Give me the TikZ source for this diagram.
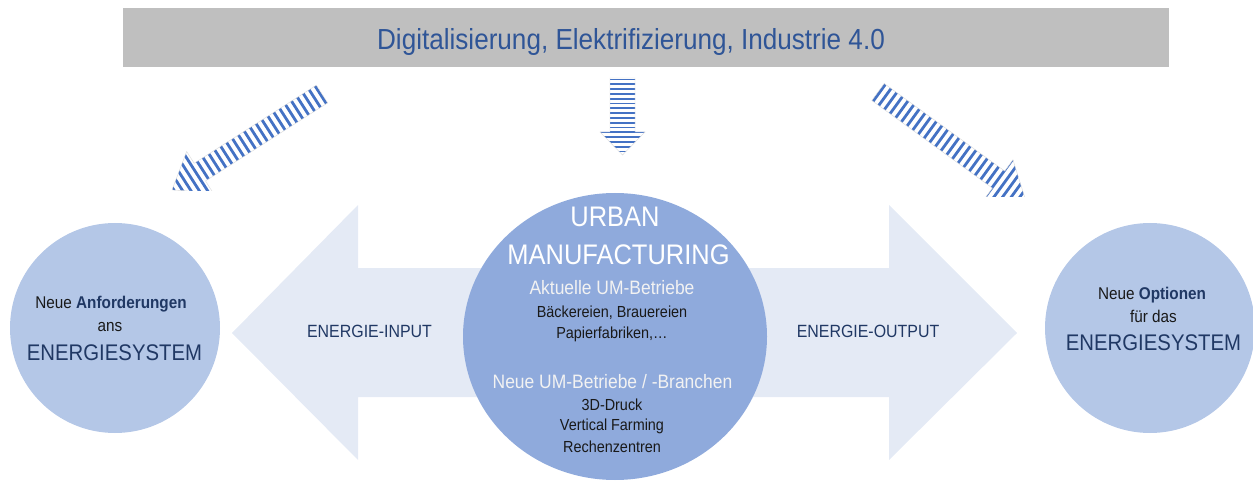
\documentclass[tikz,border=0pt]{standalone}
\usepackage{fontspec}
\setmainfont[FakeStretch=0.9]{Liberation Sans}
\usepackage{xcolor}
\usetikzlibrary{shapes.geometric}

\definecolor{bannergray}{HTML}{BFBFBF}
\definecolor{trendblue}{HTML}{2F5597}
\definecolor{stripeblue}{HTML}{4472C4}
\definecolor{flowblue}{HTML}{E4EAF5}
\definecolor{umblue}{HTML}{8FAADC}
\definecolor{sideblue}{HTML}{B4C7E7}
\definecolor{darkblue}{HTML}{203864}

\newcommand\fs[1]{\fontsize{#1}{#1}\selectfont}

% tail, angle, length, head length, shaft half width, head half width, gap, stripe width
\newcommand\stripyarrow[8]{%
	\begin{scope}[shift={(#1)}, rotate=#2]
		\begin{scope}
			\clip (0,#5) -- (#3-#4,#5) -- (#3-#4,#6) -- (#3,0) -- (#3-#4,-#6) -- (#3-#4,-#5) -- (0,-#5) -- cycle;
			\foreach \k in {0,...,40}
				\draw[stripeblue, line width=#8] ({\k*#7+1.5},-30) -- ({\k*#7+1.5},30);
		\end{scope}
		\draw[arrowrim] (0,#5) -- (#3-#4,#5) -- (#3-#4,#6) -- (#3,0) -- (#3-#4,-#6) -- (#3-#4,-#5) -- (0,-#5) -- cycle;
	\end{scope}}

\begin{document}
\begin{tikzpicture}[x=1pt, y=1pt,
	txt/.style={anchor=base, inner sep=0, text=black!90},
	bannerbox/.style={draw=black!25, line width=0.5, fill=bannergray, minimum width=1045, minimum height=58, inner sep=0},
	umcircle/.style={ellipse, fill=umblue, minimum width=304, minimum height=287, inner sep=0},
	sidecircle/.style={circle, fill=sideblue, minimum size=210, inner sep=0},
	arrowrim/.style={draw=black!15, line width=0.4}]
	\clip (0,0) rectangle (1253,-481);

	\node[bannerbox] (trend) at (645.5,-37) {};
	\node[txt, font=\fs{29}, text=trendblue] (trendtext) at (631,-50) {Digitalisierung, Elektrifizierung, Industrie 4.0};

	\coordinate (lefttail) at (322,-94);
	\coordinate (midtail) at (622.5,-78);
	\coordinate (righttail) at (878,-92);

	\begin{scope}
		\clip (0,0) rectangle (1253,-191);
		\stripyarrow{lefttail}{212.6}{178}{33}{10.5}{24.5}{7}{2.8}
	\end{scope}
	\stripyarrow{midtail}{-90}{77}{23}{12.5}{22.5}{4.8}{1.8}
	\begin{scope}
		\clip (0,0) rectangle (1253,-197);
		\stripyarrow{righttail}{-36}{182}{33}{10.5}{24.5}{7}{2.8}
	\end{scope}

	\fill[flowblue] (232,-333) -- (358,-205) -- (358,-268) -- (889,-268) -- (889,-205) -- (1017,-333)
		-- (889,-460) -- (889,-397) -- (358,-397) -- (358,-460) -- cycle;
	\node[txt, font=\fs{17.7}, text=darkblue] (input) at (369.5,-337) {ENERGIE-INPUT};
	\node[txt, font=\fs{17.7}, text=darkblue] (output) at (868,-337) {ENERGIE-OUTPUT};

	\node[umcircle] (um) at (615,-336.5) {};
	\node[sidecircle] (demand) at (115,-328) {};
	\node[sidecircle] (options) at (1150,-328) {};

	\node[txt, font=\fs{28.3}, text=white] (urban) at (615,-227) {URBAN};
	\node[txt, font=\fs{28.3}, text=white] (manuf) at (618.5,-264) {MANUFACTURING};
	\node[txt, font=\fs{19.4}, text=white!95!black] (current) at (612,-294) {Aktuelle UM-Betriebe};
	\node[txt, font=\fs{16}] (current1) at (612,-317) {Bäckereien, Brauereien};
	\node[txt, font=\fs{16}] (current2) at (612,-338) {Papierfabriken,…};
	\node[txt, font=\fs{19.4}, text=white!95!black] (new) at (612.5,-388) {Neue UM-Betriebe / -Branchen};
	\node[txt, font=\fs{16}] (new1) at (612,-410) {3D-Druck};
	\node[txt, font=\fs{16}] (new2) at (612,-430) {Vertical Farming};
	\node[txt, font=\fs{16}] (new3) at (612,-452) {Rechenzentren};

	\node[txt, font=\fs{17}] (demand1) at (111,-308) {Neue \textcolor{darkblue}{\textbf{Anforderungen}}};
	\node[txt, font=\fs{17}] (demand2) at (110,-331) {ans};
	\node[txt, font=\fs{22.6}, text=darkblue] (demand3) at (114.5,-360) {ENERGIESYSTEM};

	\node[txt, font=\fs{17}] (options1) at (1152,-299) {Neue \textcolor{darkblue}{\textbf{Optionen}}};
	\node[txt, font=\fs{17}] (options2) at (1153.5,-322) {für das};
	\node[txt, font=\fs{22.6}, text=darkblue] (options3) at (1153.5,-350) {ENERGIESYSTEM};
\end{tikzpicture}
\end{document}
